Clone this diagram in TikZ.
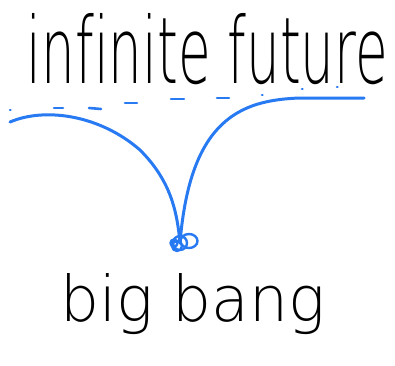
\documentclass[tikz,border=0pt]{standalone}
\usepackage{fontspec}
\usepackage{graphicx}
\newfontfamily\handfont[Ligatures=NoCommon]{DejaVu Sans ExtraLight}
\definecolor{inkblue}{RGB}{40,122,242}
\tikzset{
  worldline/.style={draw=inkblue, line width=3pt, line cap=round, line join=round},
  horizon/.style={draw=inkblue, line width=2.6pt, line cap=round},
  label/.style={inner sep=0pt, outer sep=0pt, text=black}
}
\begin{document}
\begin{tikzpicture}[x=1pt,y=-1pt]
\useasboundingbox (0,0) rectangle (395,365);
% texts
\node[label, anchor=base west] (future) at (27,83)
  {\resizebox{361pt}{70pt}{\handfont infinite future}};
\node[label, anchor=base west] (bang) at (60,321)
  {\resizebox{265pt}{48pt}{\handfont big bang}};
% dashed horizon
\foreach \xa/\ya/\xb/\yb in {10/110/10.5/110, 54/108/63/108, 89/108/101/109, 125/103/137/103,
  171/99/184/99, 217/98/229/98, 262/95/262.5/95, 302/89/302.5/89, 337/87/337.5/87}
  \draw[horizon] (\xa,\ya) -- (\xb,\yb);
% knot (big bang)
\coordinate (bb) at (180,243);
% left world line
\draw[worldline] (10,122) .. controls (45,107) and (100,115) .. (140,150)
  .. controls (170,180) and (177,210) .. (bb);
% right world line
\draw[worldline] (364,98) -- (300,98) .. controls (240,100) and (190,120) .. (bb);
% scribble knot
\draw[worldline, line width=2.4pt] (bb) ellipse [x radius=7, y radius=7];
\draw[worldline, line width=2.4pt] (177,246) circle [radius=5];
\draw[worldline, line width=2.4pt] (174,243) circle [radius=3.5];
\draw[worldline, line width=2.4pt] (189,241) ellipse [x radius=8.5, y radius=7];
\end{tikzpicture}
\end{document}
